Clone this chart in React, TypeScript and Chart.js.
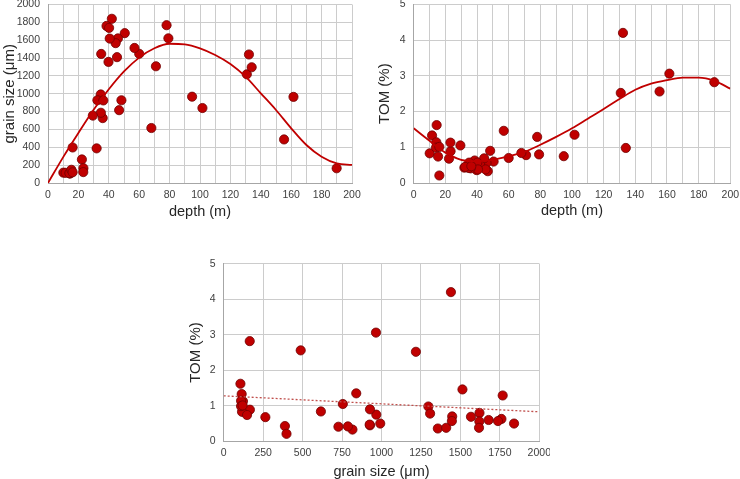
import React, { useEffect, useRef } from "react";
import { Chart, registerables } from "chart.js";
Chart.register(...registerables);

// ---- sample data (one entry per sample) ----
const depth = [132.2, 161.5, 189.9, 155.3, 130.8, 134.0, 101.6, 94.8, 78.0, 79.2, 71.0, 68.0, 60.0, 56.9, 50.5, 48.3, 46.8, 46.0, 44.5, 42.0, 39.8, 38.5, 40.2, 45.4, 40.6, 35.0, 36.0, 34.8, 32.0, 34.7, 32.5, 36.4, 29.5, 16.2, 22.3, 23.3, 23.2, 10.1, 11.6, 14.5, 14.3, 14.1, 15.4, 16.2];
const grain = [1440, 965, 165, 488, 1218, 1297, 840, 967, 1768, 1621, 1308, 616, 1448, 1513, 1679, 927, 816, 1620, 1567, 1840, 1357, 1760, 1738, 1410, 1618, 1446, 727, 787, 388, 992, 927, 925, 755, 398, 264, 166, 122, 116, 114, 106, 110, 110, 148, 120];
const tom = [4.20, 3.06, 2.82, 2.56, 2.52, 0.98, 1.35, 0.75, 1.29, 0.80, 0.78, 0.84, 0.70, 1.46, 0.60, 0.90, 0.33, 0.56, 0.69, 0.50, 0.36, 0.63, 0.57, 0.38, 0.38, 0.57, 0.41, 0.42, 0.43, 0.50, 0.45, 0.47, 1.05, 0.21, 0.68, 0.89, 1.13, 0.83, 1.33, 1.62, 1.14, 0.99, 0.74, 1.01];

// ---- trend curves ----
const curveDepth = [0, 10, 20, 30, 40, 50, 60, 70, 80, 90, 100, 110, 120, 130, 140, 150, 160, 170, 180, 190, 200];
const grainCurve = [0, 290, 560, 820, 1050, 1250, 1405, 1510, 1560, 1554, 1509, 1434, 1333, 1191, 1005, 818, 613, 426, 295, 220, 202];
const tomCurve = [1.53, 1.18, 0.85, 0.65, 0.61, 0.65, 0.75, 0.87, 1.07, 1.29, 1.53, 1.80, 2.07, 2.35, 2.61, 2.78, 2.88, 2.95, 2.95, 2.86, 2.64];
const trendGrain = [0, 2000];
const trendTom = [1.28, 0.83];

const FONT = "'Liberation Sans', Arial, sans-serif";
const RED = "#C00000";
const GRID = "#cccccc";

function pairs(xs: number[], ys: number[]) {
  return xs.map((x, i) => ({ x, y: ys[i] }));
}

type Cfg = {
  pts: { x: number; y: number }[];
  line: { x: number; y: number }[];
  dotted: boolean;
  xMax: number;
  xStep: number;
  xLabelEvery: number;
  yMax: number;
  yStep: number;
  xTitle: string;
  yTitle: string;
  yWidth: number;
  xHeight: number;
  padding: { top: number; right: number; left: number; bottom: number };
  yTitlePad: number;
  xTitlePad: number;
};

function makeConfig(c: Cfg): any {
  return {
    type: "scatter",
    data: {
      datasets: [
        {
          type: "line",
          data: c.line,
          borderColor: c.dotted ? "#c0504d" : RED,
          borderWidth: c.dotted ? 1.3 : 1.8,
          borderDash: c.dotted ? [2, 2] : [],
          pointRadius: 0,
          fill: false,
          cubicInterpolationMode: "monotone",
          order: 0,
        },
        {
          data: c.pts,
          backgroundColor: RED,
          borderColor: "#700000",
          borderWidth: 0.8,
          pointRadius: 4.6,
          order: 1,
        },
      ],
    },
    options: {
      animation: false,
      responsive: false,
      maintainAspectRatio: false,
      events: [],
      layout: { padding: c.padding },
      plugins: { legend: { display: false }, tooltip: { enabled: false } },
      scales: {
        x: {
          type: "linear",
          min: 0,
          max: c.xMax,
          grid: { color: GRID, drawTicks: false },
          border: { color: "#a6a6a6" },
          ticks: {
            stepSize: c.xStep,
            autoSkip: false,
            maxRotation: 0,
            minRotation: 0,
            padding: 6,
            color: "#404040",
            font: { family: FONT, size: 10.5 },
            callback: (v: number) => (v % c.xLabelEvery === 0 ? String(v) : ""),
          },
          title: {
            display: true,
            text: c.xTitle,
            color: "#262626",
            font: { family: FONT, size: 14.5 },
            padding: { top: 0, bottom: c.xTitlePad },
          },
          afterFit: (s: any) => {
            s.height = c.xHeight;
            s.paddingLeft = 0;
            s.paddingRight = 0;
          },
        },
        y: {
          type: "linear",
          min: 0,
          max: c.yMax,
          grid: { color: GRID, drawTicks: false },
          border: { color: "#a6a6a6" },
          ticks: {
            stepSize: c.yStep,
            padding: 8,
            color: "#404040",
            font: { family: FONT, size: 10.5 },
            callback: (v: number) => String(v),
          },
          title: {
            display: true,
            text: c.yTitle,
            color: "#262626",
            font: { family: FONT, size: 15 },
            padding: { top: c.yTitlePad, bottom: 0 },
          },
          afterFit: (s: any) => {
            s.width = c.yWidth;
            s.paddingTop = 0;
            s.paddingBottom = 0;
          },
        },
      },
    },
  };
}

function ChartBox(props: { left: number; top: number; width: number; height: number; cfg: Cfg }) {
  const ref = useRef<HTMLCanvasElement | null>(null);
  useEffect(() => {
    if (!ref.current) return;
    const chart = new Chart(ref.current, makeConfig(props.cfg));
    return () => chart.destroy();
  }, []);
  return (
    <canvas
      ref={ref}
      width={props.width}
      height={props.height}
      style={{ position: "absolute", left: props.left, top: props.top, width: props.width, height: props.height }}
    />
  );
}

export default function App() {
  const c1: Cfg = {
    pts: pairs(depth, grain),
    line: pairs(curveDepth, grainCurve),
    dotted: false,
    xMax: 200,
    xStep: 10,
    xLabelEvery: 20,
    yMax: 2000,
    yStep: 200,
    xTitle: "depth (m)",
    yTitle: "grain size (μm)",
    yWidth: 48,
    xHeight: 44,
    padding: { top: 12.5, right: 13, left: 0, bottom: 0 },
    yTitlePad: 1,
    xTitlePad: 6.5,
  };
  const c2: Cfg = {
    pts: pairs(depth, tom),
    line: pairs(curveDepth, tomCurve),
    dotted: false,
    xMax: 200,
    xStep: 10,
    xLabelEvery: 20,
    yMax: 5,
    yStep: 1,
    xTitle: "depth (m)",
    yTitle: "TOM (%)",
    yWidth: 43.7,
    xHeight: 44,
    padding: { top: 12.3, right: 9.7, left: 0, bottom: 0 },
    yTitlePad: 6,
    xTitlePad: 7,
  };
  const c3: Cfg = {
    pts: pairs(grain, tom),
    line: pairs(trendGrain, trendTom),
    dotted: true,
    xMax: 2000,
    xStep: 250,
    xLabelEvery: 250,
    yMax: 5,
    yStep: 1,
    xTitle: "grain size (μm)",
    yTitle: "TOM (%)",
    yWidth: 43.7,
    xHeight: 48.7,
    padding: { top: 13.7, right: 10.7, left: 0, bottom: 0 },
    yTitlePad: 7,
    xTitlePad: 9,
  };
  return (
    <div style={{ position: "fixed", left: 0, top: 0, width: 740, height: 479, background: "#fff", overflow: "hidden" }}>
      <ChartBox left={0} top={-8} width={365} height={235} cfg={c1} />
      <ChartBox left={370} top={-8} width={370} height={235} cfg={c2} />
      <ChartBox left={180} top={250} width={370} height={240} cfg={c3} />
    </div>
  );
}
